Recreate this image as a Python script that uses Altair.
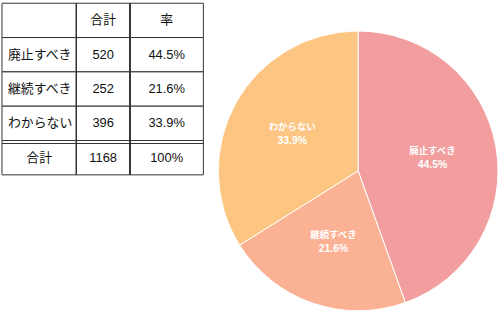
import altair as alt
import pandas as pd

categories = ["廃止すべき", "継続すべき", "わからない"]
counts = [520, 252, 396]
colors = ["#F29E9F", "#FBB194", "#FDC582"]
header = ["", "合計", "率"]
total_label = "合計"

total = sum(counts)
rates = [f"{c / total * 100:.1f}%" for c in counts]
total_rate = f"{round(total / total * 100)}%"

FONT = "Liberation Sans, Noto Sans CJK JP"
LINE = "#333333"
col_widths = [75, 54, 74]
TABLE_W = sum(col_widths)
TABLE_H = 173

edges = [0]
for w in col_widths:
    edges.append(edges[-1] + w)

row_keys = ["h", "r1", "r2", "r3", "t"]
col_texts = [
    [header[0]] + categories + [total_label],
    [header[1]] + [str(c) for c in counts] + [str(total)],
    [header[2]] + rates + [total_rate],
]

yscale = alt.Scale(domain=row_keys, paddingInner=0, paddingOuter=0)
yenc = alt.Y("row:N", sort=row_keys, axis=None, scale=yscale)

rows_df = pd.DataFrame({"row": row_keys})
row_rects = alt.Chart(rows_df).mark_rect(fill="white", stroke=LINE, strokeWidth=1).encode(
    y=yenc, x=alt.value(0), x2=alt.value(TABLE_W)
)
sep_df = pd.DataFrame({"row": ["t"]})
double_line = alt.Chart(sep_df).mark_rule(color=LINE, strokeWidth=1).encode(
    y=alt.Y("row:N", sort=row_keys, axis=None, bandPosition=0, scale=yscale),
    x=alt.value(0), x2=alt.value(TABLE_W), yOffset=alt.value(3)
)

layers = [row_rects, double_line]
for i in range(1, len(col_widths)):
    layers.append(
        alt.Chart(rows_df).mark_rule(color=LINE, strokeWidth=1).encode(
            x=alt.value(edges[i]), y=alt.value(0), y2=alt.value(TABLE_H)
        )
    )

for ci, texts in enumerate(col_texts):
    df = pd.DataFrame({"row": row_keys, "text": texts})
    if ci == 0:
        left = alt.Chart(df[df["row"].isin(["r1", "r2", "r3"])]).mark_text(
            align="left", baseline="middle", font=FONT, fontSize=13, color="#111111"
        ).encode(y=yenc, x=alt.value(edges[0] + 6), text="text:N")
        center = alt.Chart(df[df["row"] == "t"]).mark_text(
            align="center", baseline="middle", font=FONT, fontSize=13, color="#111111"
        ).encode(y=yenc, x=alt.value((edges[0] + edges[1]) / 2), text="text:N")
        layers += [left, center]
    else:
        layers.append(
            alt.Chart(df).mark_text(
                align="center", baseline="middle", font=FONT, fontSize=13,
                color="#111111"
            ).encode(y=yenc, x=alt.value((edges[ci] + edges[ci + 1]) / 2),
                     text="text:N")
        )

table = alt.layer(*layers).properties(width=TABLE_W, height=TABLE_H)

pie_df = pd.DataFrame({
    "category": categories,
    "count": counts,
    "order": list(range(len(categories))),
    "rate": rates,
})

R = 141
base = alt.Chart(pie_df).encode(
    theta=alt.Theta("count:Q", stack=True),
    order=alt.Order("order:Q"),
    x=alt.value(R),
    y=alt.value(169),
)
arc = base.mark_arc(outerRadius=R, stroke="white", strokeWidth=1).encode(
    color=alt.Color("category:N", scale=alt.Scale(domain=categories, range=colors),
                    legend=None)
)
cat_labels = base.mark_text(radius=76, dy=-7, font=FONT, fontSize=9.5,
                            fontWeight="bold", color="white", align="center",
                            baseline="middle").encode(text="category:N")
rate_labels = base.mark_text(radius=76, dy=7, font=FONT, fontSize=10.5,
                             fontWeight="bold", color="white", align="center",
                             baseline="middle").encode(text="rate:N")
pie = alt.layer(arc, cat_labels, rate_labels).properties(width=2 * R, height=310)

chart = alt.hconcat(table, pie, spacing=12).properties(
    padding={"left": 1, "top": 1, "right": 0, "bottom": 0}
).configure(background="white").configure_view(stroke=None)

chart.save("out.html", embed_options={"renderer": "svg", "actions": False})
